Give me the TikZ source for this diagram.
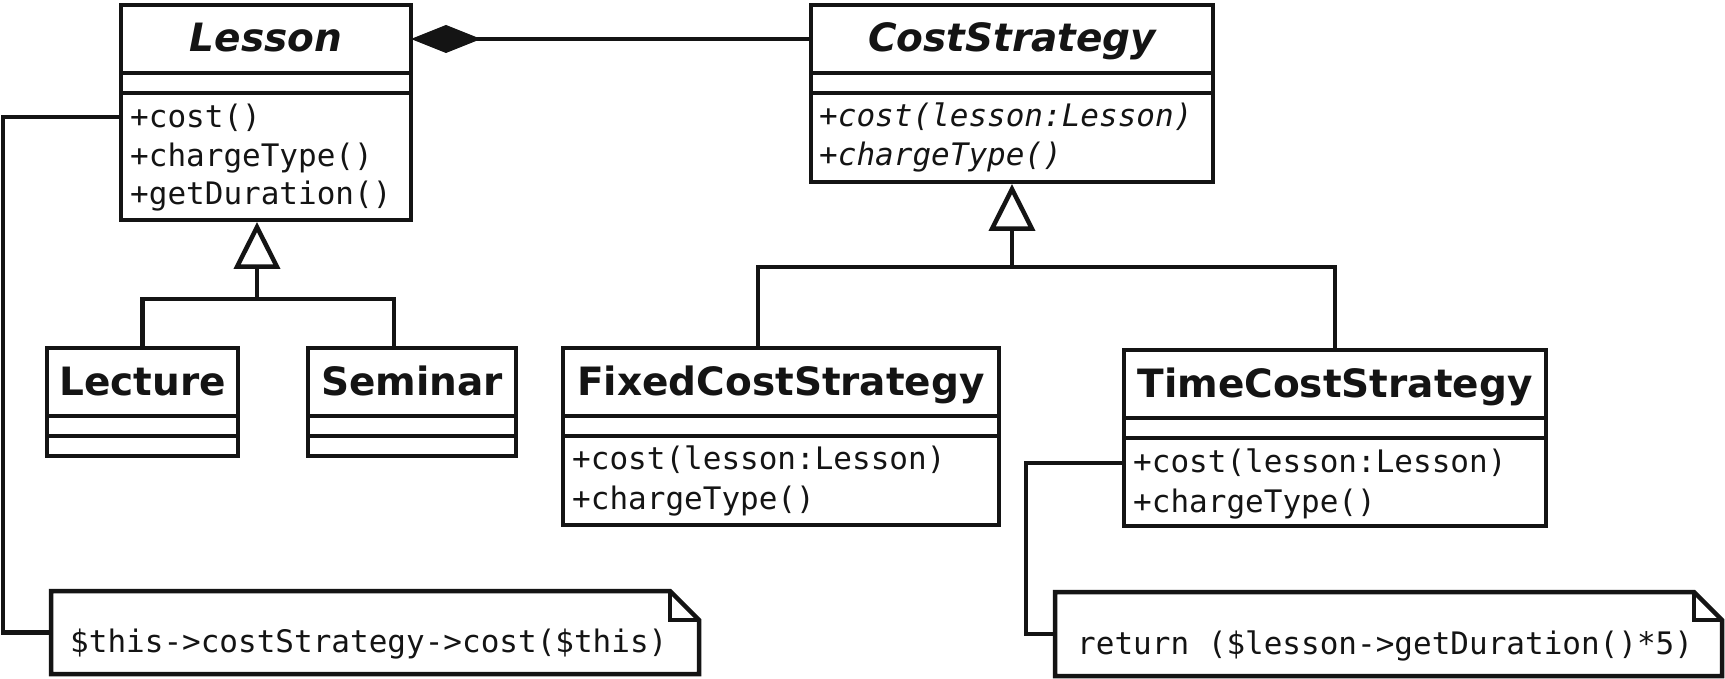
\documentclass[tikz,border=0pt]{standalone}
\usepackage{fontspec}
\usetikzlibrary{arrows.meta}
\newfontfamily\sansfam{DejaVu Sans}
\newfontfamily\monofam{DejaVu Sans Mono}
\definecolor{ink}{HTML}{141414}
\begin{document}
\begin{tikzpicture}[x=1pt,y=-1pt,
  cmp/.style={draw=ink, line width=4.5pt, inner sep=0pt, outer sep=0pt, anchor=north west},
  titletext/.style={inner sep=0pt, anchor=base, text=ink, font=\sansfam\bfseries\fontsize{39}{47}\selectfont},
  abstitle/.style={inner sep=0pt, anchor=base, text=ink, font=\sansfam\bfseries\itshape\fontsize{39}{47}\selectfont},
  optext/.style={inner sep=0pt, anchor=base west, text=ink, font=\monofam\fontsize{31}{39}\selectfont},
  absop/.style={inner sep=0pt, anchor=base west, text=ink, font=\monofam\itshape\fontsize{31}{39}\selectfont},
  conn/.style={draw=ink, line width=4.5pt},
  notebox/.style={inner sep=0pt, outer sep=0pt, anchor=north west},
  gentip/.style={-{Triangle[open,length=47pt,width=46pt]}}]

\fill[white] (0,0) rectangle (1725,679);
\useasboundingbox (0,0) rectangle (1725,679);

% Lesson
\node[cmp, minimum width=290pt, minimum height=68pt] (lessonT) at (121,5) {};
\node[cmp, minimum width=290pt, minimum height=20pt] (lessonA) at (121,73) {};
\node[cmp, minimum width=290pt, minimum height=127pt] (lessonM) at (121,93) {};
\node[abstitle] (lessonName) at (266,52) {Lesson};
\node[optext] (lessonOp1) at (130,128) {+cost()};
\node[optext] (lessonOp2) at (130,167) {+chargeType()};
\node[optext] (lessonOp3) at (130,205) {+getDuration()};

% CostStrategy
\node[cmp, minimum width=402pt, minimum height=68pt] (costT) at (811,5) {};
\node[cmp, minimum width=402pt, minimum height=20pt] (costA) at (811,73) {};
\node[cmp, minimum width=402pt, minimum height=89pt] (costM) at (811,93) {};
\node[abstitle] (costName) at (1012,52) {CostStrategy};
\node[absop] (costOp1) at (819,127) {+cost(lesson:Lesson)};
\node[absop] (costOp2) at (819,166) {+chargeType()};

% Lecture
\node[cmp, minimum width=191pt, minimum height=68pt] (lectureT) at (47,348) {};
\node[cmp, minimum width=191pt, minimum height=20pt] (lectureA) at (47,416) {};
\node[cmp, minimum width=191pt, minimum height=20pt] (lectureM) at (47,436) {};
\node[titletext] (lectureName) at (142.5,395) {Lecture};

% Seminar
\node[cmp, minimum width=208pt, minimum height=68pt] (seminarT) at (308,348) {};
\node[cmp, minimum width=208pt, minimum height=20pt] (seminarA) at (308,416) {};
\node[cmp, minimum width=208pt, minimum height=20pt] (seminarM) at (308,436) {};
\node[titletext] (seminarName) at (412,395) {Seminar};

% FixedCostStrategy
\node[cmp, minimum width=436pt, minimum height=68pt] (fixedT) at (563,348) {};
\node[cmp, minimum width=436pt, minimum height=20pt] (fixedA) at (563,416) {};
\node[cmp, minimum width=436pt, minimum height=89pt] (fixedM) at (563,436) {};
\node[titletext] (fixedName) at (781,395) {FixedCostStrategy};
\node[optext] (fixedOp1) at (572,469) {+cost(lesson:Lesson)};
\node[optext] (fixedOp2) at (572,509) {+chargeType()};

% TimeCostStrategy
\node[cmp, minimum width=422pt, minimum height=68pt] (timeT) at (1124,350) {};
\node[cmp, minimum width=422pt, minimum height=20pt] (timeA) at (1124,418) {};
\node[cmp, minimum width=422pt, minimum height=88pt] (timeM) at (1124,438) {};
\node[titletext] (timeName) at (1335,397) {TimeCostStrategy};
\node[optext] (timeOp1) at (1133,472) {+cost(lesson:Lesson)};
\node[optext] (timeOp2) at (1133,512) {+chargeType()};

% Notes
\node[notebox, minimum width=648pt, minimum height=83pt] (note1) at (51,591) {};
\draw[conn] (note1.north west) -- ([xshift=-29pt]note1.north east) -- ([yshift=-29pt]note1.north east) -- (note1.south east) -- (note1.south west) -- cycle;
\draw[conn] ([xshift=-29pt]note1.north east) -- ([xshift=-29pt,yshift=-29pt]note1.north east) -- ([yshift=-29pt]note1.north east);
\node[optext] (note1text) at (70,652) {\$this->costStrategy->cost(\$this)};

\node[notebox, minimum width=667pt, minimum height=84pt] (note2) at (1055,592) {};
\draw[conn] (note2.north west) -- ([xshift=-28pt]note2.north east) -- ([yshift=-28pt]note2.north east) -- (note2.south east) -- (note2.south west) -- cycle;
\draw[conn] ([xshift=-28pt]note2.north east) -- ([xshift=-28pt,yshift=-28pt]note2.north east) -- ([yshift=-28pt]note2.north east);
\node[optext] (note2text) at (1077,654) {return (\$lesson->getDuration()*5)};

% Composition
\draw[conn, {Diamond[length=70pt,width=28pt,line width=1pt]}-] (lessonT.east) -- (costT.west);

% Generalization to Lesson
\coordinate (lessonJoin) at (257,299);
\coordinate (seminarIn) at (394,348);
\draw[conn, gentip] (lessonJoin) -- ([yshift=-2pt]lessonJoin |- lessonM.south);
\draw[conn] (lectureT.north) |- (lessonJoin) -| (seminarIn);

% Generalization to CostStrategy
\coordinate (costJoin) at (1012,267);
\coordinate (fixedIn) at (758,348);
\draw[conn, gentip] (costJoin) -- ([yshift=-2pt]costJoin |- costM.south);
\draw[conn] (fixedIn) |- (costJoin) -| (timeT.north);

% Note connectors
\coordinate (lessonCostPt) at (121,117);
\coordinate (leftBend) at (3,117);
\draw[conn] (lessonCostPt) -- (leftBend) |- (note1.west);
\coordinate (timeCostPt) at (1124,463);
\coordinate (timeBend) at (1026,463);
\draw[conn] (timeCostPt) -- (timeBend) |- (note2.west);
\end{tikzpicture}
\end{document}
